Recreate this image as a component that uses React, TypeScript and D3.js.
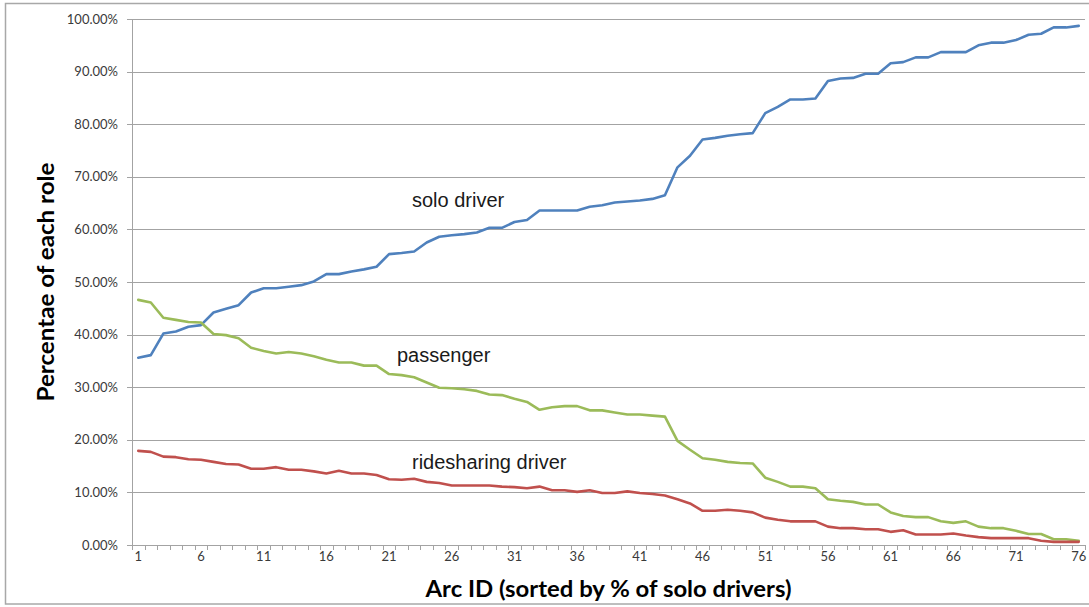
import React from "react";
import * as d3 from "d3";

const arcIds: number[] = d3.range(1, 77);

const soloDriver: number[] = [
  35.6, 36.1, 40.2, 40.6, 41.5, 41.8, 44.2, 44.9, 45.6, 48.0,
  48.8, 48.8, 49.1, 49.4, 50.1, 51.5, 51.5, 52.0, 52.4, 52.9,
  55.3, 55.5, 55.8, 57.5, 58.6, 58.9, 59.1, 59.4, 60.3, 60.3,
  61.4, 61.8, 63.6, 63.6, 63.6, 63.6, 64.3, 64.6, 65.1, 65.3,
  65.5, 65.8, 66.5, 71.8, 74.0, 77.1, 77.4, 77.8, 78.1, 78.3,
  82.1, 83.3, 84.7, 84.7, 84.9, 88.2, 88.7, 88.8, 89.6, 89.6,
  91.6, 91.8, 92.7, 92.7, 93.7, 93.7, 93.7, 95.0, 95.5, 95.5,
  96.0, 97.0, 97.2, 98.4, 98.4, 98.7,
];

const passenger: number[] = [
  46.6, 46.1, 43.2, 42.8, 42.4, 42.3, 40.1, 39.9, 39.3, 37.5,
  36.9, 36.4, 36.7, 36.4, 35.9, 35.2, 34.7, 34.7, 34.1, 34.1,
  32.5, 32.3, 31.9, 30.9, 29.9, 29.8, 29.6, 29.3, 28.6, 28.5,
  27.8, 27.2, 25.7, 26.2, 26.4, 26.4, 25.6, 25.6, 25.2, 24.8,
  24.8, 24.6, 24.4, 19.8, 18.1, 16.5, 16.2, 15.8, 15.6, 15.5,
  12.8, 12.0, 11.1, 11.1, 10.8, 8.7, 8.4, 8.2, 7.7, 7.7,
  6.2, 5.5, 5.3, 5.3, 4.5, 4.2, 4.5, 3.5, 3.2, 3.2,
  2.7, 2.1, 2.1, 1.1, 1.1, 0.8,
];

const ridesharingDriver: number[] = [
  17.9, 17.7, 16.8, 16.7, 16.3, 16.2, 15.8, 15.4, 15.3, 14.5,
  14.5, 14.8, 14.3, 14.3, 14.0, 13.6, 14.1, 13.6, 13.6, 13.3,
  12.5, 12.4, 12.6, 12.0, 11.8, 11.3, 11.3, 11.3, 11.3, 11.1,
  11.0, 10.8, 11.1, 10.4, 10.4, 10.1, 10.4, 9.9, 9.9, 10.2,
  9.9, 9.7, 9.4, 8.7, 7.9, 6.5, 6.5, 6.7, 6.5, 6.2,
  5.2, 4.8, 4.5, 4.5, 4.5, 3.5, 3.2, 3.2, 3.0, 3.0,
  2.5, 2.8, 2.0, 2.0, 2.0, 2.2, 1.8, 1.5, 1.3, 1.3,
  1.3, 1.3, 0.8, 0.6, 0.6, 0.6,
];

const yTicks: number[] = [0, 0.1, 0.2, 0.3, 0.4, 0.5, 0.6, 0.7, 0.8, 0.9, 1.0];
const xTickLabels: number[] = [1, 6, 11, 16, 21, 26, 31, 36, 41, 46, 51, 56, 61, 66, 71, 76];

const seriesList = [
  { name: "solo driver", values: soloDriver, color: "#4f81bd", label: { x: 412, y: 207 } },
  { name: "passenger", values: passenger, color: "#9bbb59", label: { x: 397, y: 362 } },
  { name: "ridesharing driver", values: ridesharingDriver, color: "#c0504d", label: { x: 412, y: 469 } },
];

const W = 1089;
const H = 607;
const plot = { left: 132, right: 1085, top: 19, bottom: 545 };

export default function App() {
  const x = d3.scaleBand<number>().domain(arcIds).range([plot.left, plot.right]).paddingInner(0).paddingOuter(0);
  const y = d3.scaleLinear().domain([0, 1]).range([plot.bottom, plot.top]);
  const cx = (id: number) => (x(id) as number) + x.bandwidth() / 2;
  const fmt = d3.format(".2%");

  const line = d3
    .line<number>()
    .x((_, i) => cx(arcIds[i]))
    .y((v) => y(v / 100));

  const tickEdges = d3.range(0, 77).map((i) => plot.left + i * x.bandwidth());
  const gridColor = "#a3a3a3";
  const tickFont = "Lato, 'Open Sans', sans-serif";

  return (
    <svg
      width={W}
      height={H}
      style={{ position: "absolute", left: 0, top: 0, background: "#fff" }}
    >
      <rect x={5.5} y={3.5} width={1100} height={600.5} fill="#fff" stroke="#a8a8a8" strokeWidth={1.5} />

      {yTicks.map((t) => (
        <g key={"g" + t}>
          <line
            x1={plot.left - 5}
            x2={plot.right}
            y1={Math.round(y(t)) + 0.5}
            y2={Math.round(y(t)) + 0.5}
            stroke={gridColor}
            strokeWidth={1}
          />
          <text
            x={118}
            y={y(t)}
            dy="0.35em"
            textAnchor="end"
            fontFamily={tickFont}
            fontSize={13}
            fill="#3a3a3a"
          >
            {fmt(t)}
          </text>
        </g>
      ))}

      <line x1={plot.left + 0.5} x2={plot.left + 0.5} y1={plot.top} y2={plot.bottom} stroke={gridColor} strokeWidth={1} />

      {tickEdges.map((tx, i) => (
        <line
          key={"t" + i}
          x1={Math.round(tx) + 0.5}
          x2={Math.round(tx) + 0.5}
          y1={plot.bottom}
          y2={plot.bottom + 5}
          stroke={gridColor}
          strokeWidth={1}
        />
      ))}

      {xTickLabels.map((id) => (
        <text
          key={"xl" + id}
          x={cx(id)}
          y={561}
          textAnchor="middle"
          fontFamily={tickFont}
          fontSize={13}
          fill="#3a3a3a"
        >
          {id}
        </text>
      ))}

      {seriesList.map((s) => (
        <path
          key={s.name}
          d={line(s.values) || ""}
          fill="none"
          stroke={s.color}
          strokeWidth={2.6}
          strokeLinejoin="round"
          strokeLinecap="round"
        />
      ))}

      {seriesList.map((s) => (
        <text
          key={"lab" + s.name}
          x={s.label.x}
          y={s.label.y}
          fontFamily="'Liberation Sans', Arial, sans-serif"
          fontSize={20}
          fill="#1a1a1a"
        >
          {s.name}
        </text>
      ))}

      <text
        x={(plot.left + plot.right) / 2}
        y={597}
        textAnchor="middle"
        fontFamily={tickFont}
        fontWeight="bold"
        fontSize={22.5}
        textLength={366}
        lengthAdjust="spacingAndGlyphs"
        fill="#000"
      >
        Arc ID (sorted by % of solo drivers)
      </text>

      <text
        transform={`translate(54, ${(plot.top + plot.bottom) / 2}) rotate(-90)`}
        textAnchor="middle"
        fontFamily={tickFont}
        fontWeight="bold"
        fontSize={22.5}
        textLength={239}
        lengthAdjust="spacingAndGlyphs"
        fill="#000"
      >
        Percentae of each role
      </text>
    </svg>
  );
}
